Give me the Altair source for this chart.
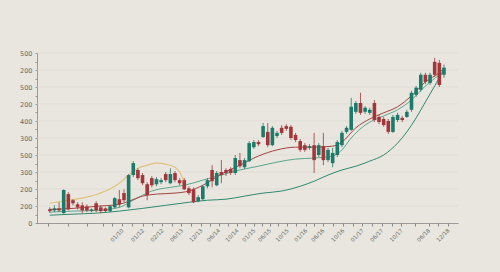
import altair as alt
import pandas as pd

# ---- candle data (index, open, high, low, close) ----
opens  = [40,37,43,29,85,67,55,52,49,35,58,46,43,35,46,70,88,46,141,156,
          141,114,132,114,120,144,117,147,126,126,102,99,64,70,108,156,111,150,156,159,
          147,185,164,182,223,238,253,268,229,256,280,285,283,259,241,229,221,229,200,226,
          185,176,200,229,268,274,327,353,327,324,353,312,306,300,268,303,309,312,333,377,
          392,436,412,474,471,436]
closes = [35,43,37,97,40,58,46,37,37,40,37,35,35,49,73,55,67,141,176,132,
          117,82,111,129,126,126,144,126,117,99,88,61,76,108,126,123,147,141,147,147,
          191,167,185,235,238,232,285,229,280,265,265,277,250,244,215,215,226,185,229,185,
          215,206,238,265,280,342,353,324,339,333,303,297,288,268,312,318,303,327,383,398,
          436,415,436,436,406,457]
highs  = [46,52,61,99,91,70,61,61,55,43,64,52,46,52,76,97,99,144,182,161,
          147,120,138,135,132,150,161,153,132,132,108,105,82,111,132,170,153,185,161,164,
          200,206,191,241,244,244,294,294,285,271,288,291,288,265,247,235,232,265,235,265,
          221,221,244,271,285,368,359,383,344,339,362,318,312,306,318,324,315,333,389,403,
          442,442,442,486,480,466]
lows   = [29,32,32,27,37,52,40,29,32,32,32,29,32,32,43,46,61,43,135,126,
          111,67,105,108,114,120,114,120,111,97,82,58,61,67,102,105,108,117,138,141,
          141,161,159,179,218,226,250,223,226,250,259,271,244,238,209,209,215,147,194,170,
          179,164,194,223,262,271,321,318,321,318,297,291,283,262,265,297,297,309,327,371,
          386,409,406,430,400,427]

# ---- moving-average style lines (index, value) ----
yellow_i = [0, 4, 8, 12, 15, 17, 19, 21, 23, 25, 27, 28, 29]
yellow_v = [58, 67, 76, 94, 117, 141, 161, 170, 176, 173, 164, 150, 120]

red_i = [0, 5, 10, 15, 17, 20, 23, 27, 30, 33, 37, 41, 45, 49, 53, 57, 61, 63, 66, 69, 72, 75, 78, 81, 84, 85]
red_v = [40, 43, 49, 55, 64, 79, 85, 88, 94, 111, 144, 170, 197, 215, 223, 223, 226, 238, 280, 306, 324, 342, 374, 415, 442, 454]

tealu_i = [0, 5, 10, 15, 18, 22, 26, 29, 33, 37, 41, 45, 49, 53, 57, 61, 63, 65, 68, 72, 75, 78, 81, 84, 85]
tealu_v = [32, 35, 37, 46, 67, 94, 105, 111, 126, 141, 156, 167, 179, 188, 191, 197, 215, 250, 288, 315, 333, 362, 403, 436, 448]

teall_i = [0, 5, 10, 15, 20, 25, 30, 34, 38, 42, 46, 50, 54, 57, 60, 63, 66, 69, 72, 75, 77, 79, 81, 83, 85]
teall_v = [23, 26, 29, 35, 43, 52, 61, 67, 70, 79, 88, 94, 108, 123, 141, 156, 167, 182, 200, 235, 268, 309, 356, 403, 451]

# ---- axis labels ----
y_ticks = [0, 50, 100, 150, 200, 250, 300, 350, 400, 450, 500]
y_labels = ['0', '200', '200', '300', '500', '300', '400', '200', '500', '200', '500']
y_minor = [25, 75, 125, 175, 225, 275, 325, 375, 425, 475]

x_ticks = [15.6, 20.0, 24.2, 28.4, 32.6, 36.4, 40.4, 44.0, 47.4, 51.2, 55.2, 58.9, 63.2, 67.4, 71.6, 75.8, 81.7, 85.9]
x_labels = ["01/10", "01/12", "02/12", "06/13", "12/13", "06/14", "10/14", "01/15", "06/15",
            "10/15", "01/16", "06/16", "10/16", "01/17", "06/17", "10/17", "06/18", "12/18"]
x_minor = [-0.3, 3.9, 8.1, 11.4, 13.5, 17.8, 22.1, 26.3, 30.5, 34.5, 38.4, 42.2, 45.7, 49.3, 53.2, 57.0, 61.0, 65.3, 69.5, 73.7, 78.8, 83.8]

RED = "#a3363a"
TEAL = "#1c7a6a"

n = len(opens)
candles = pd.DataFrame({
    "i": list(range(n)),
    "open": opens, "close": closes, "high": highs, "low": lows,
})
candles["dir"] = ["up" if c >= o else "down" for o, c in zip(opens, closes)]

xs = alt.Scale(domain=[-1.68, 86.95], nice=False, zero=False)
ys = alt.Scale(domain=[0, 500], nice=False, zero=False)
col = alt.Color("dir:N", scale=alt.Scale(domain=["up", "down"], range=[TEAL, RED]), legend=None)

all_x = sorted(x_ticks + x_minor)
x_label_expr = ("indexof(%s, datum.value) >= 0 ? %s[indexof(%s, datum.value)] : ''"
                % (x_ticks, x_labels, x_ticks))
all_y = sorted(y_ticks + y_minor)
y_label_expr = ("indexof(%s, datum.value) >= 0 ? %s[indexof(%s, datum.value)] : ''"
                % (y_ticks, y_labels, y_ticks))

x_axis = alt.Axis(values=all_x, labelExpr=x_label_expr, labelAngle=-45, labelAlign="right",
                  labelBaseline="middle", labelFontSize=5.5, labelColor="#666", labelPadding=3,
                  tickSize=3, tickColor="#888", domainColor="#888", domainWidth=0.8,
                  grid=False, title=None, labelFont="DejaVu Sans", labelOverlap=False,
                  labelFlush=False, labelBound=False)
y_axis = alt.Axis(values=all_y, labelExpr=y_label_expr, labelFontSize=6.5, labelColor="#666",
                  labelPadding=3, tickSize=2, tickColor="#999", domainColor="#888", domainWidth=0.8,
                  grid=False, title=None, labelFont="DejaVu Sans", labelOverlap=False,
                  labelFlush=False, labelBound=False)

X = lambda f: alt.X(f, scale=xs, axis=x_axis)
Y = lambda f: alt.Y(f, scale=ys, axis=y_axis)

grid = alt.Chart(pd.DataFrame({"g": y_ticks[1:]})).mark_rule(color="#dad8d0", strokeWidth=0.6).encode(
    y=Y("g:Q")
)

wicks = alt.Chart(candles).mark_rule(strokeWidth=0.8).encode(
    x=X("i:Q"),
    y=Y("low:Q"),
    y2="high:Q",
    color=col,
)
bodies = alt.Chart(candles).mark_bar(size=3.6).encode(
    x=X("i:Q"),
    y=Y("open:Q"),
    y2="close:Q",
    color=col,
)

def line(ix, vals, color, w=1.0):
    df = pd.DataFrame({"i": ix, "v": vals})
    return alt.Chart(df).mark_line(color=color, strokeWidth=w, interpolate="monotone").encode(
        x=X("i:Q"),
        y=Y("v:Q"),
    )

lines = [
    line(teall_i, teall_v, "#2f8a70", 1.0),
    line(tealu_i, tealu_v, "#5aa68e", 1.0),
    line(red_i, red_v, "#a4443e", 1.0),
    line(yellow_i, yellow_v, "#e2c27c", 1.2),
]

chart = alt.layer(grid, *lines, wicks, bodies).properties(
    width=421, height=170,
    autosize=alt.AutoSizeParams(type="none"),
    padding={"left": 37, "top": 53, "right": 42, "bottom": 49},
    background="#e8e6df",
).configure_view(stroke=None)

chart.save("out.html", embed_options={"renderer": "svg", "actions": False})
